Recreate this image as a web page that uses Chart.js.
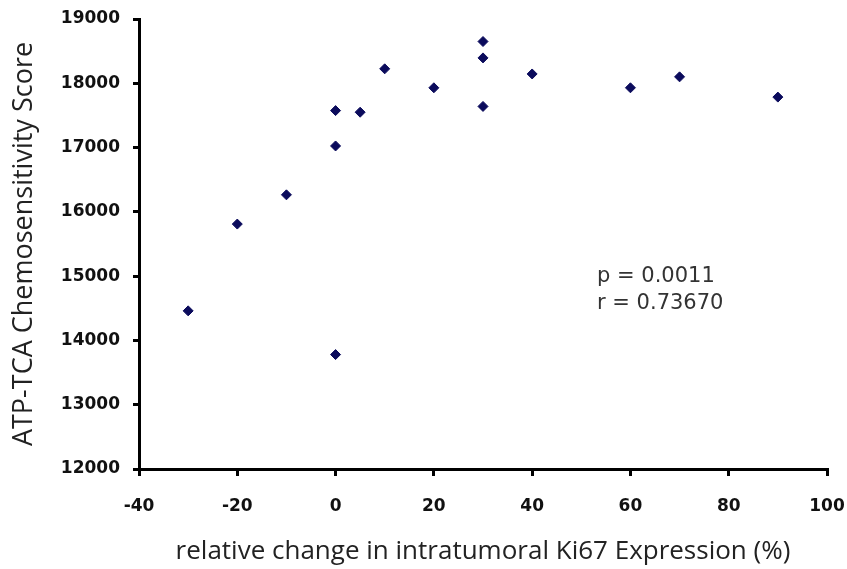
<!DOCTYPE html>
<html>
<head>
<meta charset="utf-8">
<script src="https://cdn.jsdelivr.net/npm/chart.js@4/dist/chart.umd.min.js"></script>
<style>
  html, body { margin: 0; padding: 0; background: #fff; }
  canvas { display: block; }
</style>
</head>
<body>
<canvas id="ki67Chart" width="847" height="569"></canvas>
<script>
// Ki67 change vs ATP-TCA score
const ki67Change = [-30, -20, -10, 0, 0, 0, 5, 10, 20, 30, 30, 30, 40, 60, 70, 90];
const atpScore = [14460, 15810, 16265, 13780, 17025, 17575, 17550, 18225, 17930, 18650, 18395, 17640, 18145, 17930, 18100, 17785];

const xTicks = [-40, -20, 0, 20, 40, 60, 80, 100];
const yTicks = [12000, 13000, 14000, 15000, 16000, 17000, 18000, 19000];

const statLines = ["p = 0.0011", "r = 0.73670"];
const statAnchor = { x: 53.2, y: 14990 };

const points = ki67Change.map((x, i) => ({ x: x, y: atpScore[i] }));

// draws the p / r text block inside the plot
const statsLabel = {
  id: "statsLabel",
  afterDatasetsDraw(chart) {
    const ctx = chart.ctx;
    const px = chart.scales.x.getPixelForValue(statAnchor.x);
    const py = chart.scales.y.getPixelForValue(statAnchor.y);
    ctx.save();
    ctx.fillStyle = "#333";
    ctx.font = "21px 'DejaVu Sans'";
    ctx.textAlign = "left";
    ctx.textBaseline = "middle";
    statLines.forEach((t, i) => ctx.fillText(t, px, py + i * 27));
    ctx.restore();
  }
};

const tickFont = { family: "'DejaVu Sans'", size: 17, weight: "bold" };

new Chart(document.getElementById("ki67Chart"), {
  type: "scatter",
  data: {
    datasets: [{
      data: points,
      pointStyle: "rectRot",
      pointRadius: 5,
      pointHoverRadius: 5,
      backgroundColor: "#0b0b5c",
      borderColor: "#0b0b5c",
      borderWidth: 1
    }]
  },
  options: {
    responsive: false,
    animation: false,
    layout: { padding: 0 },
    plugins: { legend: { display: false }, tooltip: { enabled: false } },
    scales: {
      x: {
        type: "linear",
        min: -40,
        max: 100,
        afterBuildTicks: axis => { axis.ticks = xTicks.map(v => ({ value: v })); },
        afterFit: axis => {
          axis.height = 100;
          axis.paddingLeft = 0;
          axis.paddingRight = 20;
        },
        ticks: { font: tickFont, color: "#111", padding: 20, maxRotation: 0 },
        grid: { drawOnChartArea: false, tickLength: 7, color: "#000", lineWidth: 3 },
        border: { color: "#000", width: 3 },
        title: {
          display: true,
          text: "relative change in intratumoral Ki67 Expression (%)",
          font: { family: "'Open Sans'", size: 26 },
          color: "#222",
          padding: { top: 0, bottom: 2 }
        }
      },
      y: {
        min: 12000,
        max: 19000,
        afterBuildTicks: axis => { axis.ticks = yTicks.map(v => ({ value: v })); },
        afterFit: axis => {
          axis.width = 139;
          axis.paddingTop = 19;
          axis.paddingBottom = 0;
        },
        ticks: { font: tickFont, color: "#111", padding: 13, callback: v => String(v) },
        grid: { drawOnChartArea: false, tickLength: 6, color: "#000", lineWidth: 3 },
        border: { color: "#000", width: 3 },
        title: {
          display: true,
          text: "ATP-TCA Chemosensitivity Score",
          font: { family: "'Open Sans'", size: 27 },
          color: "#222",
          padding: { top: 8, bottom: 0 }
        }
      }
    }
  },
  plugins: [statsLabel]
});
</script>
</body>
</html>
